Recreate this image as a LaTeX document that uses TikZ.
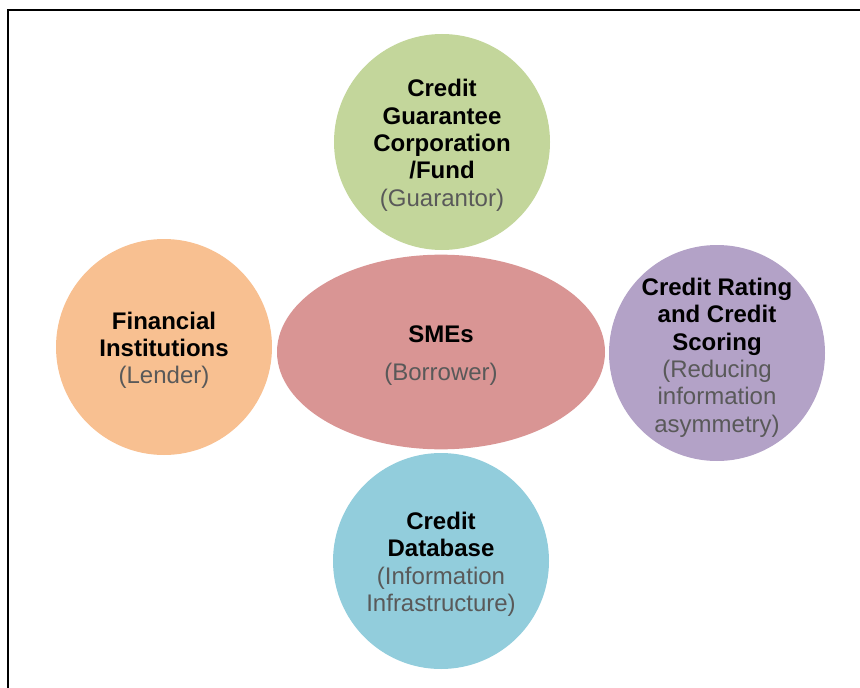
\documentclass[tikz,border=0pt]{standalone}
\usepackage{fontspec}
\setmainfont{Liberation Sans}
\usetikzlibrary{shapes.geometric}
\definecolor{guarGreen}{HTML}{C3D69B}
\definecolor{lendOrange}{HTML}{F8C091}
\definecolor{smeRed}{HTML}{D99594}
\definecolor{rateViolet}{HTML}{B3A2C7}
\definecolor{dbBlue}{HTML}{92CDDC}
\definecolor{roleGray}{HTML}{595959}
\newcommand{\roleText}[1]{{\mdseries\color{roleGray}#1}}
\begin{document}
\begin{tikzpicture}[x=0.75pt,y=-0.75pt]
\useasboundingbox (0,0) rectangle (860,688);
\tikzstyle{party}=[circle,draw=none,inner sep=0pt,minimum size=162pt]
\tikzstyle{core}=[party,ellipse,minimum width=246pt,minimum height=146pt]
\tikzstyle{partytext}=[inner sep=0pt,align=center,yshift=-2.5pt,font=\fontsize{18}{20.5}\selectfont\bfseries]
    % frame
    \draw[line width=1pt] (8,688) -- (8,10) -- (860,10);
    % parties round the borrower
    \node (guar)[party,fill=guarGreen] at (442,142) {};
    \node (lend)[party,fill=lendOrange] at (164,347) {};
    \node (sme)[core,fill=smeRed] at (441,352) {};
    \node (rate)[party,fill=rateViolet] at (717,353) {};
    \node (db)[party,fill=dbBlue] at (441,561) {};
    % texts
    \node (guarText)[partytext] at (guar) {Credit\\Guarantee\\Corporation\\/Fund\\\roleText{(Guarantor)}};
    \node (lendText)[partytext] at (lend) {Financial\\Institutions\\\roleText{(Lender)}};
    \node (smeText)[partytext] at (sme) {SMEs\\[8pt]\roleText{(Borrower)}};
    \node (rateText)[partytext,yshift=-1pt] at (rate) {Credit Rating\\and Credit\\Scoring\\\roleText{(Reducing}\\\roleText{information}\\\roleText{asymmetry)}};
    \node (dbText)[partytext] at (db) {Credit\\Database\\\roleText{(Information}\\\roleText{Infrastructure)}};
\end{tikzpicture}
\end{document}
